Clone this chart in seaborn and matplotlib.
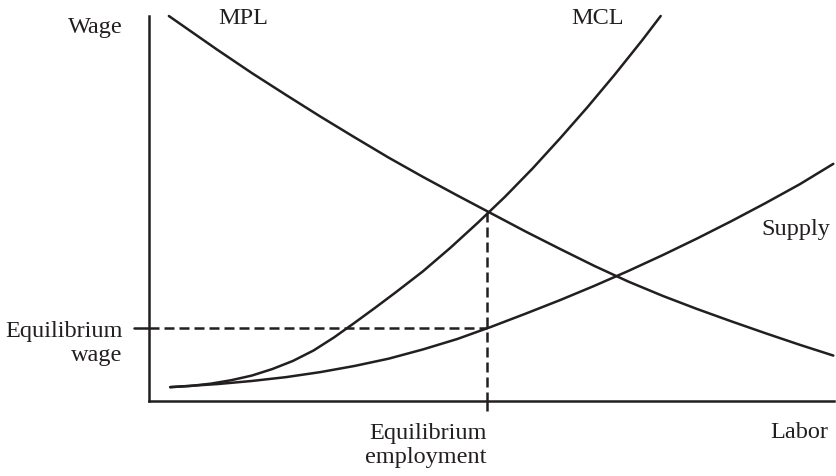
import matplotlib
matplotlib.use("Agg")
import matplotlib.pyplot as plt
import seaborn as sns

# ================= DATA (labor / wage in 0-100 units) =================
mpl_x = [2.9, 10, 15, 20, 25, 30, 35, 40, 45, 50, 55, 60, 65, 70, 75, 80, 85, 90, 95, 99.9]
mpl_y = [100, 91.2, 85.2, 79.5, 73.9, 68.5, 63.2, 58.2, 53.4, 48.7,
         44.0, 39.5, 35.1, 31.0, 27.3, 23.9, 20.7, 17.6, 14.6, 11.8]

mcl_x = [3.1, 6, 9, 12, 15, 18, 21, 24, 27, 30, 33, 36, 40, 44, 48, 52, 56, 60, 64, 68, 72, 74.7]
mcl_y = [3.6, 3.9, 4.5, 5.4, 6.6, 8.3, 10.4, 13.1, 16.5, 20.3, 24.2, 28.2,
         33.7, 39.8, 46.3, 53.1, 60.4, 68.2, 76.3, 84.8, 93.7, 100]

supply_x = [3.1, 10, 15, 20, 25, 30, 35, 40, 45, 50, 55, 60, 65, 70, 75, 80, 85, 90, 95, 99.9]
supply_y = [3.6, 4.4, 5.2, 6.2, 7.5, 9.1, 11.0, 13.4, 16.1, 19.3,
            22.7, 26.2, 29.9, 33.8, 37.9, 42.2, 46.7, 51.4, 56.3, 61.6]

eq_employment = 49.4
eq_wage = 19.0
eq_mcl = 49.0

ink = "#231f20"

# ================= STYLE =================
sns.set_style("white")
plt.rcParams["font.family"] = ["Liberation Serif", "DejaVu Serif"]
fs = 17.5

fig = plt.figure(figsize=(8.36, 4.77), dpi=100)
ax = fig.add_axes([149 / 836, 75 / 477, 685 / 836, 385 / 477])

# ================= CURVES =================
for xs, ys in [(mpl_x, mpl_y), (mcl_x, mcl_y), (supply_x, supply_y)]:
    sns.lineplot(x=xs, y=ys, ax=ax, color=ink, linewidth=1.8,
                 estimator=None, clip_on=False)

# dashed guides + little ticks
dash = (0, (4.0, 2.0))
ax.plot([0, eq_employment], [eq_wage, eq_wage], color=ink, lw=1.8, ls=dash)
ax.plot([eq_employment, eq_employment], [eq_mcl, 0], color=ink, lw=1.8, ls=dash)
ax.plot([-2.2, 0], [eq_wage, eq_wage], color=ink, lw=1.8, clip_on=False)
ax.plot([eq_employment, eq_employment], [0, -2.9], color=ink, lw=1.8, ls=dash,
        clip_on=False)

ax.set_xlim(0, 100)
ax.set_ylim(0, 100)
ax.set_xticks([])
ax.set_yticks([])
sns.despine(ax=ax)
for s in ["left", "bottom"]:
    ax.spines[s].set_color(ink)
    ax.spines[s].set_linewidth(1.8)

# ================= LABELS =================
ax.text(-3.9, 97.4, "Wage", ha="right", va="center", fontsize=fs, color=ink)
ax.text(13.7, 99.7, "MPL", ha="center", va="center", fontsize=fs, color=ink)
ax.text(65.5, 99.7, "MCL", ha="center", va="center", fontsize=fs, color=ink)
ax.text(99.4, 44.7, "Supply", ha="right", va="center", fontsize=fs, color=ink)
ax.text(99.1, -7.8, "Labor", ha="right", va="center", fontsize=fs, color=ink)
ax.text(-3.9, 15.1, "Equilibrium\nwage", ha="right", va="center",
        multialignment="right", fontsize=fs, color=ink, linespacing=1.2)
ax.text(49.3, -11.4, "Equilibrium\nemployment", ha="right", va="center",
        multialignment="right", fontsize=fs, color=ink, linespacing=1.2)

fig.savefig("out.png", dpi=100)
